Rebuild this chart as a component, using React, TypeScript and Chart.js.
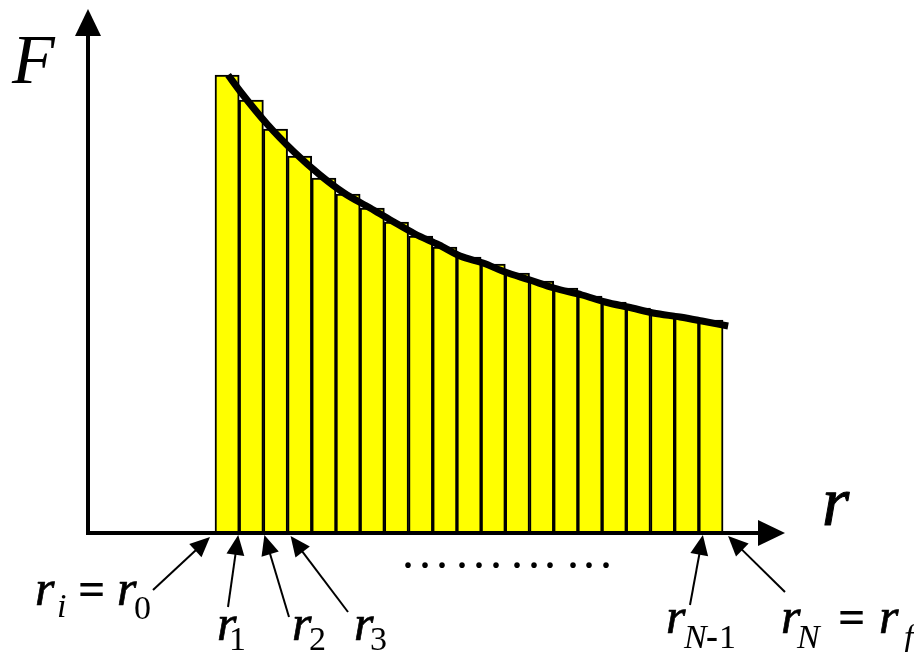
import React, { useEffect, useRef } from 'react';
import { Chart, registerables } from 'chart.js';

Chart.register(...registerables);

// ---- data ----
const BAR_F = [9.16, 8.66, 8.08, 7.54, 7.1, 6.78, 6.5, 6.22, 5.94, 5.72, 5.52, 5.38, 5.2, 5.04, 4.9, 4.74, 4.62, 4.5, 4.4, 4.32, 4.26];
const BAR_CENTERS = BAR_F.map((_, i) => i + 0.5);
const CURVE_R = [0.54, 1.03, 2.15, 3.27, 4.34, 5.33, 6.41, 7.32, 8.27, 9.26, 10.13, 11.08, 11.99, 13.02, 14.01, 15.17, 16.12, 17.24, 18.11, 19.22, 20.13, 21.21];
const CURVE_F = [9.16, 8.84, 8.18, 7.62, 7.16, 6.8, 6.5, 6.24, 5.98, 5.76, 5.54, 5.4, 5.22, 5.06, 4.9, 4.76, 4.62, 4.5, 4.4, 4.32, 4.24, 4.14];
const X_MIN = -5.25;
const X_MAX = 23.56;
const Y_MIN = 0;
const Y_MAX = 10;
const Y_AXIS_LABEL = 'F';
const X_AXIS_LABEL = 'r';
const DOT_X = [408, 425, 442, 462, 479, 496, 517, 534, 550, 573, 589, 606];

// label pieces: [text, fontKey, x, baseline]
type Piece = [string, string, number, number];
const EDGE_LABELS: { edge: number; tip: [number, number]; tail: [number, number]; parts: Piece[] }[] = [
  { edge: 0, tip: [-5, 4], tail: [153, 590], parts: [['r', 'I', 35, 605], ['i', 'S', 57, 617], ['=', 'R', 78, 605], ['r', 'I', 117, 605], ['0', 'D', 134, 619]] },
  { edge: 1, tip: [-1, 2], tail: [228, 607], parts: [['r', 'I', 217, 640], ['1', 'D', 229, 650]] },
  { edge: 2, tip: [1, 2], tail: [289, 617], parts: [['r', 'I', 292, 640], ['2', 'D', 309, 650]] },
  { edge: 3, tip: [3, 3], tail: [348, 612], parts: [['r', 'I', 354, 640], ['3', 'D', 370, 650]] },
  { edge: 20, tip: [4, 2], tail: [690, 605], parts: [['r', 'I', 666, 633], ['N', 'S', 684, 648], ['-', 'H', 706, 648], ['1', 'D', 719, 648]] },
  { edge: 21, tip: [5, 3], tail: [785, 592], parts: [['r', 'I', 781, 633], ['N', 'S', 797, 648], ['=', 'R', 838, 633], ['r', 'I', 879, 633], ['f', 'S', 904, 648]] },
];

const FONTS: Record<string, string> = {
  I: 'italic 50px "Liberation Serif"',
  S: 'italic 34px "Liberation Serif"',
  R: 'bold 48px "Liberation Serif"',
  D: '34px "Liberation Serif"',
  H: 'bold 36px "Liberation Serif"',
  BIG: 'italic 70px "Liberation Serif"',
  DOT: '48px "Liberation Serif"',
};

function arrow(ctx: CanvasRenderingContext2D, x1: number, y1: number, x2: number, y2: number, len: number, half: number, lw: number) {
  const dx = x2 - x1, dy = y2 - y1;
  const d = Math.hypot(dx, dy);
  const ux = dx / d, uy = dy / d;
  const bx = x2 - ux * len, by = y2 - uy * len;
  ctx.save();
  ctx.strokeStyle = '#000';
  ctx.fillStyle = '#000';
  ctx.lineWidth = lw;
  ctx.beginPath();
  ctx.moveTo(x1, y1);
  ctx.lineTo(bx + ux * 2, by + uy * 2);
  ctx.stroke();
  ctx.beginPath();
  ctx.moveTo(x2, y2);
  ctx.lineTo(bx - uy * half, by + ux * half);
  ctx.lineTo(bx + uy * half, by - ux * half);
  ctx.closePath();
  ctx.fill();
  ctx.restore();
}

function text(ctx: CanvasRenderingContext2D, t: string, x: number, y: number, font: string, stroke: number) {
  ctx.font = font;
  ctx.fillText(t, x, y);
  if (stroke > 0) {
    ctx.lineWidth = stroke;
    ctx.strokeText(t, x, y);
  }
}

const annotations = {
  id: 'annotations',
  afterDatasetsDraw(chart: any) {
    const ctx: CanvasRenderingContext2D = chart.ctx;
    const xs = chart.scales.x;
    const ys = chart.scales.y;
    const ax = xs.getPixelForValue(X_MIN);
    const ay = ys.getPixelForValue(Y_MIN);
    const top = ys.getPixelForValue(Y_MAX);
    const right = xs.getPixelForValue(X_MAX);

    // axes
    arrow(ctx, ax, ay + 2, ax, top - 24, 27, 13, 4);
    arrow(ctx, ax - 2, ay, right, ay, 27, 13, 4);

    ctx.save();
    ctx.fillStyle = '#000';
    ctx.strokeStyle = '#000';
    ctx.lineJoin = 'round';
    ctx.textAlign = 'left';
    ctx.textBaseline = 'alphabetic';
    text(ctx, Y_AXIS_LABEL, 12, 83, FONTS.BIG, 0);
    text(ctx, X_AXIS_LABEL, 822, 525, FONTS.BIG, 1);

    for (const lab of EDGE_LABELS) {
      const ex = xs.getPixelForValue(lab.edge);
      arrow(ctx, lab.tail[0], lab.tail[1], ex + lab.tip[0], ay + lab.tip[1], 20, 9, 2);
      for (const [t, f, x, y] of lab.parts) {
        const s = f === 'I' ? 0.7 : 0;
        text(ctx, t, x, y, FONTS[f], s);
      }
    }

    ctx.font = FONTS.DOT;
    ctx.textAlign = 'center';
    for (const x of DOT_X) ctx.fillText('.', x, 568);
    ctx.restore();
  },
};

export default function App() {
  const ref = useRef<HTMLCanvasElement>(null);
  useEffect(() => {
    if (!ref.current) return;
    const chart = new Chart(ref.current, {
      type: 'bar',
      data: {
        datasets: [
          {
            type: 'line',
            data: CURVE_R.map((r, i) => ({ x: r, y: CURVE_F[i] })),
            borderColor: '#000',
            borderWidth: 7,
            pointRadius: 0,
            cubicInterpolationMode: 'monotone',
            fill: false,
            order: 0,
          } as any,
          {
            type: 'bar',
            data: BAR_CENTERS.map((c, i) => ({ x: c, y: BAR_F[i] })),
            backgroundColor: '#FFFF00',
            borderColor: '#000',
            borderWidth: 2,
            barPercentage: 1,
            categoryPercentage: 1,
            order: 1,
          } as any,
        ],
      },
      options: {
        animation: false,
        responsive: false,
        devicePixelRatio: 1,
        layout: { padding: { left: 88, right: 129, top: 33, bottom: 119 } },
        plugins: { legend: { display: false }, tooltip: { enabled: false } },
        scales: {
          x: { type: 'linear', min: X_MIN, max: X_MAX, display: false, offset: false },
          y: { type: 'linear', min: Y_MIN, max: Y_MAX, display: false },
        },
      },
      plugins: [annotations],
    } as any);
    return () => chart.destroy();
  }, []);
  return (
    <div style={{ position: 'absolute', left: 0, top: 0, width: 914, height: 652, background: '#fff' }}>
      <canvas ref={ref} width={914} height={652} style={{ display: 'block' }} />
    </div>
  );
}
